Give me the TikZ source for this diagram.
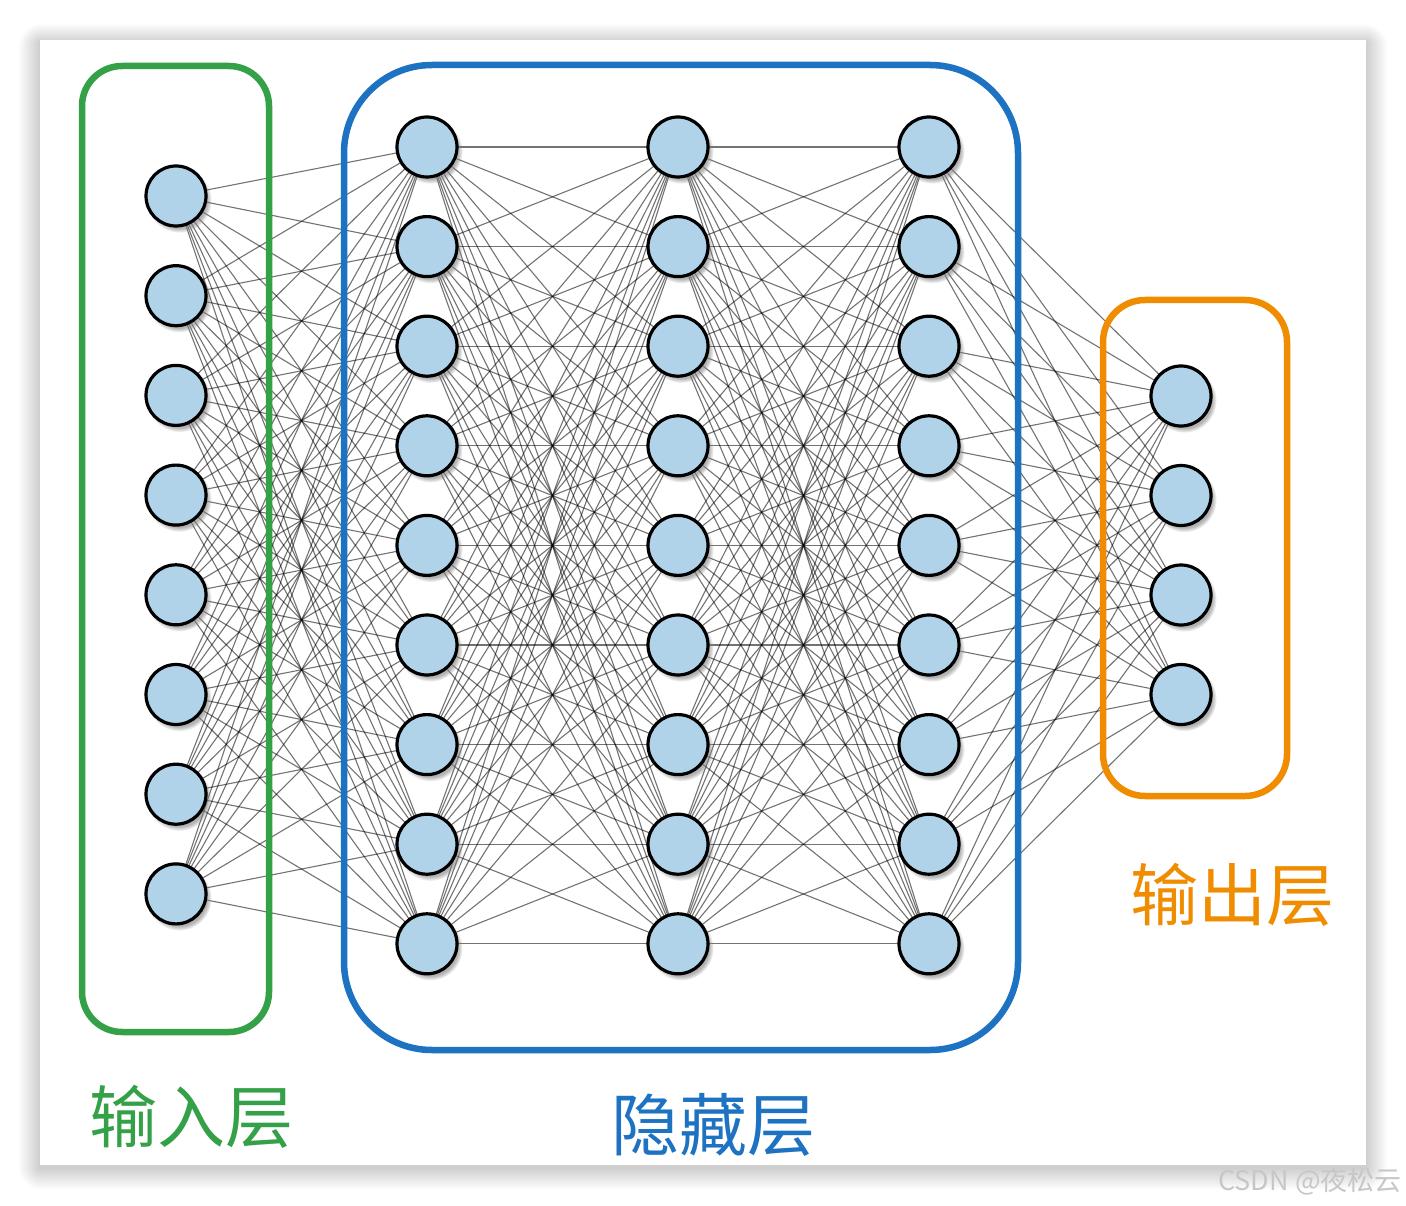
\documentclass[tikz,border=0pt]{standalone}
\usepackage{fontspec}
\newfontfamily\cjk{Noto Sans CJK SC}
\usetikzlibrary{shadows,fadings}
\definecolor{nodeblue}{HTML}{B0D3E9}
\definecolor{ingreen}{HTML}{34A047}
\definecolor{hidblue}{HTML}{1E72C2}
\definecolor{outorange}{HTML}{F08C00}
\pgfdeclarelayer{bg}
\pgfdeclarelayer{edgelayer}
\pgfdeclarelayer{boxlayer}
\pgfsetlayers{bg,edgelayer,boxlayer,main}
\tikzset{
  neuron/.style={circle, draw=black, line width=3.2pt, fill=nodeblue, minimum size=60pt, inner sep=0pt,
    circular drop shadow={shadow xshift=3pt, shadow yshift=-4pt, opacity=0.6, shadow scale=1.08}},
  link/.style={line width=1.1pt, draw=black, opacity=0.55},
  layerbox/.style={line width=6.5pt},
  lbl/.style={font=\cjk\fontsize{68}{80}\selectfont, inner sep=0pt}
}
\begin{document}
\begin{tikzpicture}[x=1pt,y=-1pt]
\useasboundingbox (0,0) rectangle (1406,1206);
\begin{pgfonlayer}{bg}
  \fill[white] (0,0) rectangle (1406,1206);
  \foreach \i in {1,...,24}{
    \fill[black, opacity=0.006, rounded corners=\i pt] (40-\i*0.9,40-\i*0.8+3) rectangle (1366+\i*0.9,1165+\i*0.9+3);
  }
  \fill[white] (40,40) rectangle (1366,1165);
\end{pgfonlayer}
% nodes
\foreach \k in {1,...,8}{
  \node[neuron] (i\k) at (176,{196+99.7*(\k-1)}) {};
}
\foreach \k in {1,...,9}{
  \node[neuron] (a\k) at (427,{147+99.6*(\k-1)}) {};
  \node[neuron] (b\k) at (678,{147+99.6*(\k-1)}) {};
  \node[neuron] (c\k) at (929,{147+99.6*(\k-1)}) {};
}
\foreach \k in {1,...,4}{
  \node[neuron] (o\k) at (1181,{396+99.5*(\k-1)}) {};
}
% edges
\begin{pgfonlayer}{edgelayer}
\foreach \p in {1,...,8}{
  \foreach \q in {1,...,9}{
    \draw[link] (i\p.center) -- (a\q.center);
  }
}
\foreach \p in {1,...,9}{
  \foreach \q in {1,...,9}{
    \draw[link] (a\p.center) -- (b\q.center);
    \draw[link] (b\p.center) -- (c\q.center);
  }
  \foreach \q in {1,...,4}{
    \draw[link] (c\p.center) -- (o\q.center);
  }
}
\end{pgfonlayer}
% boxes
\begin{pgfonlayer}{boxlayer}
  \draw[layerbox, ingreen, rounded corners=40pt] (82,66) rectangle (269,1032);
  \draw[layerbox, hidblue, rounded corners=88pt] (344,65) rectangle (1018,1050);
  \draw[layerbox, outorange, rounded corners=42pt] (1103,300) rectangle (1287,796);
\end{pgfonlayer}
% labels
\node[lbl, text=ingreen] (lin) at (191,1117) {输入层};
\node[lbl, text=hidblue] (lhid) at (713,1125) {隐藏层};
\node[lbl, text=outorange] (lout) at (1232,895) {输出层};
\node[font=\cjk\fontsize{27}{30}\selectfont, text=black!22, inner sep=0pt] (wm) at (1310,1181) {CSDN @夜松云};
\end{tikzpicture}
\end{document}
